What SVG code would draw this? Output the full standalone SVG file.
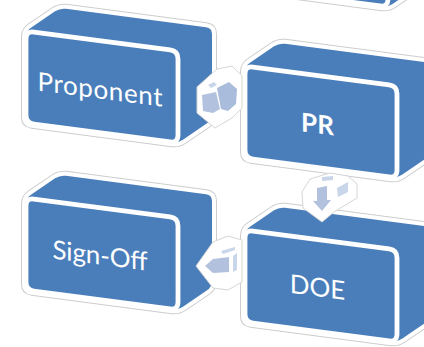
<svg xmlns="http://www.w3.org/2000/svg" xmlns:xlink="http://www.w3.org/1999/xlink" width="424" height="347" viewBox="0 0 424 347">
<style>
.halo-o{fill:#fff;stroke:#cdcdcd;stroke-width:10;stroke-linejoin:round}
.halo-i{fill:#fff;stroke:#fff;stroke-width:8;stroke-linejoin:round}
.body{fill:#4A7EBB}
.front{fill:#4A7EBB;stroke:#fff;stroke-width:4.8}
.lbl{font-family:Lato,"Open Sans",sans-serif;font-size:26px;fill:#fff;text-anchor:middle}
.bold{font-weight:bold}
.ar-halo{fill:#fff;stroke:#d6d6d6;stroke-width:1;stroke-linejoin:round}
.ar-a{fill:#B2C2DE}
.ar-b{fill:#A9BCDB}
.ar-c{fill:#C9D5E9}
</style>
<defs>
<path id="sil" d="M5.95,92.78 Q0,92 0,86 L0,6 Q0,0 4.97,-3.36 L29.03,-19.64 Q34,-23 39.95,-22.22 L180.05,-3.78 Q186,-3 186,3 L186,83 Q186,89 181.03,92.36 L156.97,108.64 Q152,112 146.05,111.22 Z"/>
<path id="frt" d="M0,8 Q0,0 7.93,1.04 L144.07,18.96 Q152,20 152,28 L152,104 Q152,112 144.07,110.96 L7.93,93.04 Q0,92 0,84 Z"/>
<g id="box">
<use href="#sil" class="halo-o"/>
<use href="#sil" class="halo-i"/>
<use href="#sil" class="body"/>
<use href="#frt" class="front"/>
</g>
</defs>
<g id="node-top">
<use href="#box" transform="translate(236,-105)"/>
</g>
<g id="node-proponent" transform="translate(26,31)">
<use href="#box"/>
<text class="lbl" transform="skewY(7.4)" x="74" y="58" textLength="125">Proponent</text>
</g>
<g id="node-pr" transform="translate(245,66)">
<use href="#box"/>
<text class="lbl bold" transform="skewY(7.4)" x="72.5" y="58">PR</text>
</g>
<g id="node-signoff" transform="translate(26,198)">
<use href="#box"/>
<text class="lbl" transform="skewY(7.4)" x="74" y="57" textLength="95">Sign-Off</text>
</g>
<g id="node-doe" transform="translate(245,230)">
<use href="#box"/>
<text class="lbl" transform="skewY(7.4)" x="72.5" y="57">DOE</text>
</g>
<g id="connectors">
<g id="arrow-proponent-pr">
<polygon class="ar-halo" points="197,87 217,69 232,66 242,76 242,108 232,118 215,128 197,113"/>
<polygon class="ar-a" points="202,95 216,92 220,109 213,113 203,111"/>
<polygon class="ar-b" points="217,88 229,82 237,89 236,104 228,111 221,109"/>
<polygon class="ar-c" points="208,85 214,82 217,85 211,88"/>
</g>
<g id="arrow-pr-doe">
<polygon class="ar-halo" points="310,179 302,192 303,208 322,222 334,212 357,198 357,184 348,176 330,173"/>
<polygon class="ar-a" points="317,188 327,186 327,200 331,200 322,211 313,201 317,201"/>
<polygon class="ar-c" points="337,188 348,182 348,192 338,197"/>
<polygon class="ar-c" points="322,177 333,176 333,180 322,181"/>
</g>
<g id="arrow-doe-signoff">
<polygon class="ar-halo" points="196,266 213,242 228,236 242,240 242,282 228,290 213,288"/>
<polygon class="ar-a" points="205,266 213,259 229,257 229,272 213,273"/>
<polygon class="ar-c" points="221,251 235,247 235,250 223,254"/>
<polygon class="ar-c" points="233,256 237,253 237,270 233,272"/>
</g>
</g>
</svg>
